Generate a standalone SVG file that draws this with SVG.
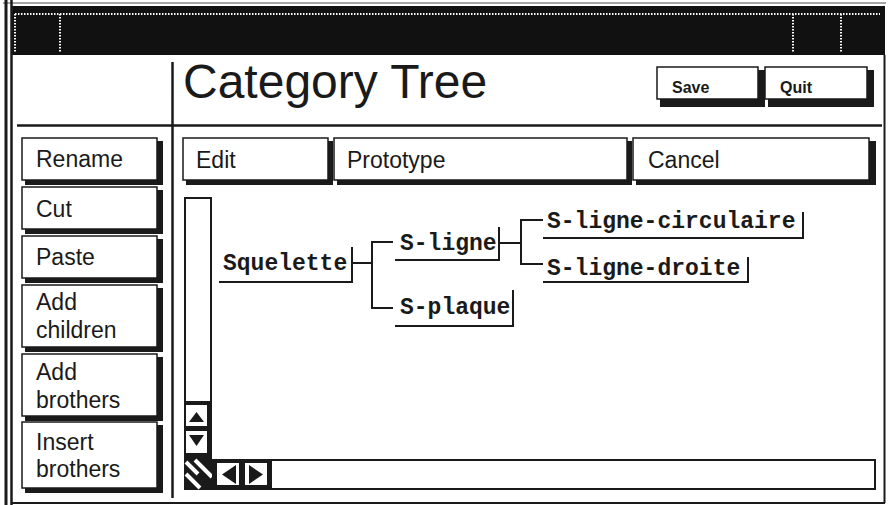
<svg xmlns="http://www.w3.org/2000/svg" width="888" height="505" viewBox="0 0 888 505">
<defs>
<style>
.ui{font-family:"Liberation Sans",Arial,sans-serif;font-size:23px;fill:#1a1a1a}
.sm{font-family:"Liberation Sans",Arial,sans-serif;font-size:16px;font-weight:bold;fill:#1a1a1a}
.tr{font-family:"Liberation Mono","Courier New",monospace;font-size:23px;font-weight:bold;fill:#1a1a1a}
.face{fill:#fff;stroke:#1a1a1a;stroke-width:1.5}
.sh{fill:#1a1a1a}
.ln{fill:none;stroke:#1a1a1a;stroke-width:2}
.dot{fill:none;stroke:#fff;stroke-width:2;stroke-dasharray:1.5 1.5}
</style>
</defs>
<rect width="888" height="505" fill="#fff"/>
<!-- window frame -->
<g id="frame">
<rect x="12" y="6" width="873" height="49" fill="#111"/>
<line x1="3" y1="3" x2="886" y2="3" stroke="#888" stroke-width="1.5"/>
<path class="dot" d="M15 14 H880 M15 14 V52 M60 14 V52 M793 14 V52 M841 14 V52"/>
<line x1="6" y1="0" x2="6" y2="505" stroke="#1a1a1a" stroke-width="3"/>
<line x1="11.5" y1="0" x2="11.5" y2="505" stroke="#1a1a1a" stroke-width="2.5"/>
<line x1="884.5" y1="55" x2="884.5" y2="503" stroke="#1a1a1a" stroke-width="2"/>
<line x1="11" y1="503" x2="885" y2="503" stroke="#1a1a1a" stroke-width="2"/>
<line x1="17" y1="125.5" x2="882" y2="125.5" stroke="#1a1a1a" stroke-width="2.5"/>
<line x1="172.5" y1="62" x2="172.5" y2="498" stroke="#1a1a1a" stroke-width="2.5"/>
<text x="183" y="98" font-family="Liberation Sans, Arial, sans-serif" font-size="48" fill="#1a1a1a">Category Tree</text>
</g>
<!-- top buttons -->
<g id="btn-save"><rect class="sh" x="660" y="70" width="105" height="37"/><rect class="face" x="657" y="67" width="101" height="32"/><text class="sm" x="672" y="93">Save</text></g>
<g id="btn-quit"><rect class="sh" x="768" y="70" width="106" height="37"/><rect class="face" x="765" y="67" width="102" height="32"/><text class="sm" x="780" y="93">Quit</text></g>
<!-- left buttons -->
<g id="btn-rename"><rect class="sh" x="25" y="141" width="138" height="44"/><rect class="face" x="22" y="138" width="135" height="42"/><text class="ui" x="36" y="167">Rename</text></g>
<g id="btn-cut"><rect class="sh" x="25" y="190" width="138" height="44"/><rect class="face" x="22" y="187" width="135" height="42"/><text class="ui" x="36" y="217">Cut</text></g>
<g id="btn-paste"><rect class="sh" x="25" y="239" width="138" height="44"/><rect class="face" x="22" y="236" width="135" height="42"/><text class="ui" x="36" y="265">Paste</text></g>
<g id="btn-addchildren"><rect class="sh" x="25" y="288" width="138" height="64"/><rect class="face" x="22" y="285" width="135" height="62"/><text class="ui" x="36" y="310">Add</text><text class="ui" x="36" y="338">children</text></g>
<g id="btn-addbrothers"><rect class="sh" x="25" y="357" width="138" height="64"/><rect class="face" x="22" y="354" width="135" height="62"/><text class="ui" x="36" y="380">Add</text><text class="ui" x="36" y="408">brothers</text></g>
<g id="btn-insertbrothers"><rect class="sh" x="25" y="425" width="138" height="68"/><rect class="face" x="22" y="422" width="135" height="66"/><text class="ui" x="36" y="450">Insert</text><text class="ui" x="36" y="477">brothers</text></g>
<!-- toolbar -->
<g id="btn-edit"><rect class="sh" x="186" y="141" width="147" height="44"/><rect class="face" x="183" y="138" width="145" height="42"/><text class="ui" x="196" y="168">Edit</text></g>
<g id="btn-prototype"><rect class="sh" x="337" y="141" width="295" height="44"/><rect class="face" x="334" y="138" width="293" height="42"/><text class="ui" x="347" y="168">Prototype</text></g>
<g id="btn-cancel"><rect class="sh" x="636" y="141" width="240" height="44"/><rect class="face" x="633" y="138" width="236" height="42"/><text class="ui" x="648" y="168">Cancel</text></g>
<!-- scrollbars -->
<g id="vscroll">
<rect x="184" y="197" width="28" height="293" fill="#1a1a1a"/>
<rect x="186" y="199" width="24" height="202" fill="#fff"/>
<rect x="186" y="405" width="21" height="21" fill="#fff"/>
<polygon points="189,422 204,422 196.5,412" fill="#1a1a1a"/>
<rect x="186" y="431" width="21" height="22" fill="#fff"/>
<polygon points="189,435 204,435 196.5,446" fill="#1a1a1a"/>
<path d="M186 462 L198 474 M195 460 L212 477 M186 474 L200 488" stroke="#fff" stroke-width="4" fill="none"/>
</g>
<g id="hscroll">
<rect x="212" y="459" width="664" height="31" fill="#1a1a1a"/>
<rect x="272" y="461" width="602" height="27" fill="#fff"/>
<rect x="217" y="463" width="22" height="22" fill="#fff"/>
<polygon points="236,465 236,484 222,474.5" fill="#1a1a1a"/>
<rect x="245" y="463" width="22" height="22" fill="#fff"/>
<polygon points="249,465 249,484 263,474.5" fill="#1a1a1a"/>
</g>
<!-- tree nodes -->
<g id="node-squelette"><text class="tr" x="223" y="270">Squelette</text><path class="ln" d="M219 282 H352 V247"/></g>
<g id="node-sligne"><text class="tr" x="400" y="250">S-ligne</text><path class="ln" d="M395 260 H499 V227"/></g>
<g id="node-splaque"><text class="tr" x="400" y="314">S-plaque</text><path class="ln" d="M395 326 H513 V290"/></g>
<g id="node-circulaire"><text class="tr" x="547" y="228">S-ligne-circulaire</text><path class="ln" d="M543 238 H803 V212"/></g>
<g id="node-droite"><text class="tr" x="547" y="275">S-ligne-droite</text><path class="ln" d="M543 282 H748 V257"/></g>
<!-- connectors -->
<g id="connectors" class="ln">
<path d="M352 263 H372 M393 242 H372 V308 H393"/>
<path d="M499 243 H521 M543 220 H521 V264 H543"/>
</g>
</svg>
